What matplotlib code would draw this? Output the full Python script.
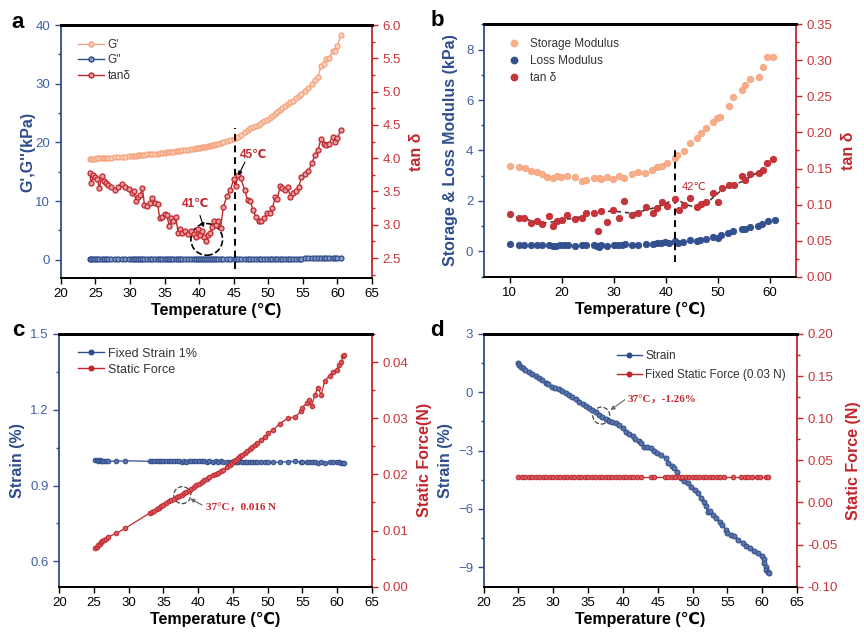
import matplotlib
matplotlib.use("Agg")
import matplotlib.pyplot as plt
from matplotlib.ticker import MultipleLocator, FormatStrFormatter
from matplotlib.lines import Line2D

plt.rcParams['font.family'] = ['Liberation Sans', 'DejaVu Sans']

BLUE = '#2f4d8c'
BLUE_TXT = '#42609f'
RED = '#c1272d'
RED_TXT = '#c8363c'
ORANGE = '#f5a27c'
ORANGE_B = '#f8ae88'
SERIF = ['Liberation Serif', 'DejaVu Serif', 'Noto Sans CJK SC']

# ---- panel a: G', G'', tan delta vs temperature
a_temp = [24.2, 24.4, 24.7, 25.0, 25.3, 25.6, 25.9, 26.2, 26.5, 26.8, 27.3, 27.8, 28.3, 28.8,
          29.3, 29.8, 30.3, 30.6, 30.9, 31.2, 31.5, 31.8, 32.1, 32.5, 32.9, 33.2, 33.6, 34.0,
          34.3, 34.6, 35.0, 35.3, 35.7, 36.0, 36.3, 36.6, 37.0, 37.3, 37.6, 38.0, 38.4, 38.8,
          39.2, 39.5, 39.8, 40.1, 40.4, 40.7, 41.0, 41.3, 41.6, 41.9, 42.2, 42.5, 42.8, 43.1,
          43.5, 44.0, 44.5, 45.0, 45.3, 45.6, 46.0, 46.6, 47.0, 47.4, 47.8, 48.2, 48.6, 49.0,
          49.4, 49.8, 50.2, 50.6, 51.0, 51.3, 51.7, 52.0, 52.4, 52.8, 53.2, 53.6, 54.0, 54.4,
          54.8, 55.3, 55.8, 56.3, 56.8, 57.2, 57.6, 58.0, 58.4, 58.8, 59.3, 59.6, 60.0, 60.5]
a_storage = [17.2, 17.2, 17.25, 17.25, 17.3, 17.3, 17.3, 17.35, 17.35, 17.4, 17.4, 17.45, 17.5, 17.55,
             17.6, 17.65, 17.7, 17.7, 17.75, 17.8, 17.8, 17.85, 17.9, 17.95, 18.0, 18.0, 18.05, 18.1,
             18.15, 18.2, 18.25, 18.3, 18.35, 18.4, 18.45, 18.5, 18.55, 18.6, 18.65, 18.7, 18.75, 18.85,
             18.9, 19.0, 19.05, 19.1, 19.2, 19.25, 19.3, 19.35, 19.45, 19.5, 19.6, 19.7, 19.8, 19.9,
             20.0, 20.2, 20.4, 20.6, 20.8, 21.0, 21.3, 21.8, 22.1, 22.4, 22.6, 22.8, 23.0, 23.3,
             23.6, 23.9, 24.2, 24.5, 24.8, 25.1, 25.5, 25.8, 26.2, 26.5, 26.8, 27.1, 27.5, 27.9,
             28.3, 28.7, 29.2, 29.9, 30.7, 31.1, 33.0, 33.4, 34.2, 34.3, 35.5, 35.6, 36.5, 38.3]
a_loss = [0.12, 0.12, 0.12, 0.12, 0.12, 0.12, 0.12, 0.12, 0.12, 0.12, 0.12, 0.12, 0.12, 0.12,
          0.12, 0.12, 0.12, 0.12, 0.12, 0.12, 0.12, 0.12, 0.12, 0.12, 0.12, 0.12, 0.12, 0.12,
          0.12, 0.12, 0.12, 0.12, 0.12, 0.12, 0.12, 0.12, 0.12, 0.12, 0.12, 0.12, 0.12, 0.12,
          0.13, 0.13, 0.13, 0.13, 0.13, 0.13, 0.13, 0.13, 0.13, 0.13, 0.13, 0.13, 0.13, 0.14,
          0.14, 0.14, 0.14, 0.15, 0.15, 0.15, 0.15, 0.15, 0.16, 0.16, 0.16, 0.16, 0.17, 0.17,
          0.17, 0.17, 0.18, 0.18, 0.18, 0.19, 0.19, 0.19, 0.2, 0.2, 0.2, 0.21, 0.21, 0.22,
          0.22, 0.23, 0.23, 0.24, 0.25, 0.26, 0.27, 0.28, 0.29, 0.3, 0.31, 0.32, 0.33, 0.35]
a_tan = [3.77, 3.62, 3.74, 3.71, 3.68, 3.55, 3.73, 3.66, 3.62, 3.60, 3.57, 3.52, 3.57, 3.61,
         3.57, 3.54, 3.47, 3.50, 3.35, 3.42, 3.45, 3.55, 3.30, 3.28, 3.32, 3.40, 3.33, 3.31,
         3.10, 3.12, 3.16, 3.15, 2.98, 3.10, 3.05, 3.12, 2.87, 2.93, 2.88, 2.90, 2.86, 2.90,
         2.86, 2.82, 2.93, 2.85, 2.90, 2.82, 2.76, 2.84, 2.88, 2.96, 3.06, 3.00, 3.05, 2.95,
         3.26, 3.43, 3.52, 3.68, 3.58, 3.75, 3.70, 3.52, 3.37, 3.36, 3.22, 3.12, 3.06, 3.06,
         3.10, 3.17, 3.18, 3.25, 3.42, 3.38, 3.58, 3.55, 3.52, 3.56, 3.42, 3.47, 3.50, 3.56,
         3.72, 3.76, 3.80, 3.93, 4.05, 4.12, 4.29, 4.21, 4.20, 4.22, 4.32, 4.24, 4.30, 4.43]

# ---- panel b: storage / loss modulus and tan delta
b_storage_temp = [10.0, 11.7, 12.9, 14.0, 15.2, 16.2, 17.2, 18.3, 19.1, 19.9, 21.0, 22.5, 23.9, 24.6,
                  26.2, 27.1, 27.6, 28.7, 29.9, 31.0, 32.0, 33.4, 34.6, 36.0, 37.4, 38.3, 39.2, 40.3,
                  41.8, 42.2, 43.4, 44.7, 46.0, 46.8, 47.8, 49.0, 49.9, 50.4, 52.2, 52.9, 54.6, 55.2,
                  56.2, 57.8, 58.6, 59.5, 60.6]
b_storage = [3.40, 3.36, 3.29, 3.20, 3.16, 3.07, 2.96, 2.90, 2.99, 2.94, 3.00, 2.94, 2.81, 2.83,
             2.92, 2.90, 2.86, 2.94, 2.87, 2.99, 2.92, 3.06, 3.14, 3.12, 3.23, 3.33, 3.40, 3.52,
             3.70, 3.82, 3.99, 4.31, 4.51, 4.68, 4.91, 5.14, 5.27, 5.34, 5.76, 6.13, 6.39, 6.59,
             6.82, 6.92, 7.29, 7.71, 7.71]
b_loss_temp = [10.0, 11.7, 12.8, 14.0, 15.2, 16.2, 17.5, 18.3, 18.9, 19.6, 20.4, 21.2, 22.6, 23.8,
               24.6, 26.2, 26.8, 27.1, 27.6, 28.7, 30.0, 30.8, 31.6, 32.1, 33.4, 34.6, 36.1, 37.5,
               38.3, 39.0, 39.8, 40.6, 41.7, 42.4, 43.3, 44.7, 45.9, 46.6, 47.8, 49.0, 50.0, 50.6,
               52.0, 52.9, 54.7, 55.2, 56.2, 57.7, 58.5, 59.6, 60.9]
b_loss = [0.30, 0.27, 0.27, 0.25, 0.25, 0.24, 0.25, 0.22, 0.23, 0.24, 0.24, 0.25, 0.23, 0.24,
          0.24, 0.25, 0.22, 0.17, 0.25, 0.21, 0.26, 0.25, 0.25, 0.30, 0.26, 0.27, 0.28, 0.29,
          0.33, 0.35, 0.36, 0.35, 0.40, 0.35, 0.38, 0.47, 0.43, 0.47, 0.50, 0.59, 0.53, 0.65,
          0.75, 0.79, 0.90, 0.88, 0.98, 1.01, 1.10, 1.22, 1.25]
b_tan_temp = [10.0, 11.7, 12.7, 14.0, 15.2, 16.2, 17.5, 18.3, 19.1, 20.0, 21.1, 22.5, 23.9, 24.6,
              26.1, 26.9, 27.6, 28.7, 29.9, 31.0, 32.0, 33.4, 34.6, 36.1, 37.6, 38.3, 39.3, 40.3,
              41.8, 42.5, 43.4, 44.7, 46.0, 46.8, 47.8, 49.0, 50.1, 50.8, 52.2, 53.0, 54.6, 55.2,
              56.2, 57.8, 58.6, 59.5, 60.6]
b_tan = [0.0865, 0.081, 0.081, 0.074, 0.077, 0.073, 0.084, 0.070, 0.077, 0.079, 0.0855, 0.0795, 0.082, 0.088,
         0.088, 0.064, 0.091, 0.076, 0.093, 0.082, 0.105, 0.0855, 0.089, 0.096, 0.088, 0.095, 0.104, 0.098,
         0.108, 0.0925, 0.100, 0.109, 0.096, 0.101, 0.103, 0.116, 0.104, 0.1225, 0.127, 0.127, 0.140, 0.134,
         0.142, 0.144, 0.148, 0.157, 0.163]
b_trend_temp = [11.5, 13.0, 16.0, 18.3, 20.0, 22.5, 24.5, 27.5, 30.0, 33.5, 36.0, 39.0, 41.8, 44.0,
                46.0, 48.0, 50.2, 51.0, 53.0, 55.0, 57.0, 59.0, 61.0]
b_trend = [0.081, 0.080, 0.074, 0.076, 0.079, 0.081, 0.085, 0.090, 0.091, 0.088, 0.092, 0.098, 0.108, 0.100,
           0.095, 0.103, 0.117, 0.122, 0.127, 0.133, 0.142, 0.150, 0.163]

# ---- panel c: fixed strain, static force
c_temp = [25.2, 25.4, 25.6, 25.8, 26.0, 26.2, 26.4, 26.7, 27.0, 28.2, 29.5, 33.0, 33.3, 33.6,
          34.0, 34.3, 34.7, 35.0, 35.4, 35.8, 36.1, 36.5, 36.9, 37.2, 37.6, 37.9, 38.3, 38.6,
          39.0, 39.4, 39.7, 40.1, 40.5, 40.9, 41.2, 41.6, 42.1, 42.5, 42.9, 43.3, 43.6, 44.1,
          44.5, 44.8, 45.1, 45.4, 45.7, 46.0, 46.3, 46.7, 47.0, 47.4, 47.7, 48.1, 48.5, 49.1,
          49.6, 50.0, 50.8, 51.7, 52.9, 53.9, 54.8, 54.9, 55.6, 56.0, 56.3, 56.8, 57.2, 57.7,
          58.2, 58.9, 59.4, 59.9, 60.3, 60.6, 60.8, 61.0]
c_strain = [1.002, 1.000, 0.999, 1.000, 0.998, 0.997, 0.998, 0.997, 0.996, 0.997, 0.998, 0.996, 0.997, 0.998,
            0.997, 0.996, 0.997, 0.996, 0.997, 0.996, 0.997, 0.996, 0.997, 0.996, 0.995, 0.996, 0.995, 0.997,
            0.996, 0.998, 0.997, 0.996, 0.997, 0.996, 0.995, 0.996, 0.995, 0.996, 0.995, 0.996, 0.995, 0.995,
            0.994, 0.995, 0.996, 0.995, 0.994, 0.996, 0.995, 0.994, 0.995, 0.994, 0.995, 0.994, 0.993, 0.994,
            0.993, 0.994, 0.993, 0.992, 0.995, 0.996, 0.993, 0.992, 0.993, 0.992, 0.993, 0.992, 0.991, 0.992,
            0.991, 0.992, 0.993, 0.994, 0.992, 0.991, 0.990, 0.991]
c_force = [0.0068, 0.0071, 0.0074, 0.0076, 0.0079, 0.0081, 0.0083, 0.0085, 0.0088, 0.0095, 0.0104, 0.0131, 0.0133, 0.0135,
           0.0138, 0.0140, 0.0144, 0.0146, 0.0149, 0.0152, 0.0155, 0.0157, 0.0159, 0.0161, 0.0163, 0.0166, 0.0169, 0.0171,
           0.0174, 0.0177, 0.0181, 0.0183, 0.0187, 0.0190, 0.0192, 0.0195, 0.0198, 0.0200, 0.0203, 0.0206, 0.0208, 0.0213,
           0.0217, 0.0220, 0.0223, 0.0226, 0.0229, 0.0232, 0.0234, 0.0238, 0.0241, 0.0245, 0.0249, 0.0253, 0.0256, 0.0262,
           0.0267, 0.0273, 0.0279, 0.0290, 0.0300, 0.0302, 0.0312, 0.0318, 0.0327, 0.0333, 0.0322, 0.0342, 0.0354, 0.0342,
           0.0366, 0.0376, 0.0383, 0.0386, 0.0395, 0.0400, 0.0410, 0.0413]

# ---- panel d: strain under fixed static force
d_temp = [24.9, 25.1, 25.3, 25.6, 26.0, 26.5, 27.0, 27.5, 27.9, 28.4, 28.9, 29.3, 29.8, 30.3,
          30.8, 31.3, 31.8, 32.2, 32.7, 33.2, 33.7, 34.2, 34.7, 35.1, 35.6, 36.1, 36.6, 37.0,
          37.5, 38.0, 38.5, 39.0, 39.5, 40.0, 40.4, 40.9, 41.4, 41.8, 42.3, 42.6, 43.0, 43.5,
          44.0, 44.5, 44.9, 45.5, 46.2, 46.5, 47.0, 47.4, 47.8, 48.3, 48.8, 49.3, 49.8, 50.3,
          50.8, 51.2, 51.6, 51.9, 52.2, 52.5, 53.0, 53.4, 53.9, 54.3, 54.8, 55.0, 55.5, 56.0,
          56.6, 57.2, 57.7, 58.2, 58.8, 59.4, 60.0, 60.2, 60.3, 60.5, 60.6, 60.8, 61.0]
d_strain = [1.50, 1.40, 1.32, 1.25, 1.15, 1.05, 0.95, 0.83, 0.72, 0.62, 0.50, 0.40, 0.29, 0.22,
            0.16, 0.05, -0.05, -0.15, -0.25, -0.36, -0.48, -0.58, -0.70, -0.80, -0.90, -1.03, -1.16, -1.26,
            -1.38, -1.48, -1.55, -1.60, -1.67, -1.85, -2.02, -2.15, -2.27, -2.40, -2.53, -2.62, -2.79, -2.82,
            -2.87, -3.00, -3.10, -3.25, -3.39, -3.64, -3.78, -3.90, -4.10, -4.41, -4.55, -4.67, -4.85, -5.01,
            -5.20, -5.44, -5.65, -5.87, -6.15, -6.13, -6.30, -6.47, -6.65, -6.81, -7.07, -7.25, -7.35, -7.41,
            -7.58, -7.75, -7.90, -8.01, -8.15, -8.27, -8.40, -8.60, -8.78, -9.00, -9.12, -9.22, -9.29]
d_force_temp = [25.0, 25.5, 26.0, 26.5, 27.0, 27.5, 28.0, 28.5, 29.0, 29.5, 30.0, 30.5, 31.0, 31.5,
                32.0, 32.5, 33.0, 33.5, 34.0, 34.5, 35.0, 35.5, 36.0, 36.5, 37.0, 37.5, 38.0, 38.5,
                39.0, 39.5, 40.0, 40.5, 41.0, 41.5, 42.0, 42.6, 44.0, 44.5, 46.0, 46.5, 47.0, 47.5,
                48.0, 48.5, 49.0, 49.5, 50.0, 50.5, 51.0, 51.5, 52.0, 52.5, 53.0, 53.5, 54.0, 54.5,
                55.8, 57.0, 57.5, 58.0, 58.5, 59.2, 59.7, 60.5, 60.9]
d_force = [0.03] * len(d_force_temp)  # fixed static force setpoint


def style_axes(ax, ax2):
    for s in ('left', 'right', 'top', 'bottom'):
        ax.spines[s].set_linewidth(1.3)
        ax2.spines[s].set_linewidth(1.3)
    ax.spines['left'].set_color(BLUE)
    ax.spines['right'].set_visible(False)
    ax2.spines['left'].set_visible(False)
    ax2.spines['right'].set_color(RED)
    ax.spines['top'].set_linewidth(2.0)
    ax2.spines['top'].set_linewidth(2.0)
    ax.tick_params(axis='y', which='both', direction='out', colors=BLUE, labelcolor=BLUE_TXT,
                   labelsize=9.5)
    ax.tick_params(axis='y', which='major', length=4, width=1)
    ax.tick_params(axis='y', which='minor', length=2.5, width=1)
    ax.tick_params(axis='x', direction='out', length=4, width=1, labelsize=9.5, colors='black')
    ax2.tick_params(axis='y', which='both', direction='out', colors=RED, labelcolor=RED_TXT,
                    labelsize=9.5)
    ax2.tick_params(axis='y', which='major', length=4, width=1)
    ax2.tick_params(axis='y', which='minor', length=2.5, width=1)
    ax.set_xlabel('Temperature (℃)', fontsize=11.5, fontweight='bold', labelpad=2)


fig = plt.figure(figsize=(8.64, 6.35), dpi=100)

# ================= a =================
ax = fig.add_axes([0.0703, 0.5622, 0.3603, 0.3984])
ax2 = ax.twinx()
style_axes(ax, ax2)
ax.plot(a_temp, a_storage, '-o', color=ORANGE, lw=1, ms=3.6, mfc='#fbd2bd', mec=ORANGE, mew=0.9)
ax.plot(a_temp, a_loss, '-o', color=BLUE, lw=1, ms=3.6, mfc='#8a9cc4', mec=BLUE, mew=0.9)
ax2.plot(a_temp, a_tan, '-o', color=RED, lw=1, ms=3.6, mfc='#e59a9c', mec=RED, mew=0.9)
ax.plot([45.2, 45.2], [-1.5, 22.5], '--', color='black', lw=1.4, dashes=(3.5, 2.5))
ax.set_xlim(20, 65)
ax.set_ylim(-3.1, 40)
ax2.set_ylim(2.2, 6.0)
ax.xaxis.set_major_locator(MultipleLocator(5))
ax.yaxis.set_major_locator(MultipleLocator(10))
ax.yaxis.set_minor_locator(MultipleLocator(5))
ax2.yaxis.set_major_locator(MultipleLocator(0.5))
ax2.yaxis.set_minor_locator(MultipleLocator(0.25))
ax2.yaxis.set_major_formatter(FormatStrFormatter('%.1f'))
ax.set_ylabel("G',G''(kPa)", fontsize=11.5, fontweight='bold', color=BLUE, labelpad=0)
ax2.set_ylabel('tan δ', fontsize=11.5, fontweight='bold', color=RED, labelpad=6)
ax2.text(39.5, 3.31, '41℃', color=RED, fontsize=8.5, fontweight='bold', ha='center', va='center')
ax2.annotate('', xy=(40.8, 2.92), xytext=(40.0, 3.18),
             arrowprops=dict(arrowstyle='-|>', color='black', lw=0.8, mutation_scale=6))
ax2.scatter([41.1], [2.78], s=520, facecolors='none', edgecolors='black', linestyles='--', linewidths=1.2)
ax2.text(47.9, 4.05, '45℃', color=RED, fontsize=8.5, fontweight='bold', ha='center', va='center')
ax2.annotate('', xy=(45.5, 3.70), xytext=(46.8, 3.98),
             arrowprops=dict(arrowstyle='-|>', color='black', lw=0.8, mutation_scale=6))
h = [Line2D([], [], color=ORANGE, marker='o', ms=3.6, mfc='#fbd2bd', lw=1),
     Line2D([], [], color=BLUE, marker='o', ms=3.6, mfc='#8a9cc4', lw=1),
     Line2D([], [], color=RED, marker='o', ms=3.6, mfc='#e59a9c', lw=1)]
ax.legend(h, ["G'", "G''", 'tanδ'], loc='upper left', bbox_to_anchor=(0.055, 0.945), frameon=False,
          fontsize=8.5, handlelength=2.2, handletextpad=0.3, labelspacing=0.3, borderpad=0,
          borderaxespad=0, labelcolor='#333333')

# ================= b =================
ax = fig.add_axes([0.5598, 0.5643, 0.3615, 0.3974])
ax2 = ax.twinx()
style_axes(ax, ax2)
ax.plot(b_storage_temp, b_storage, 'o', color=ORANGE_B, ms=4.6, mec='#f5a27c', mew=0.6)
ax.plot(b_loss_temp, b_loss, 'o', color='#34518f', ms=4.6, mec=BLUE, mew=0.6)
ax2.plot(b_trend_temp, b_trend, '--', color='#333333', lw=1.1, dashes=(3, 2.5))
ax2.plot(b_tan_temp, b_tan, 'o', color='#c6353a', ms=4.6, mec=RED, mew=0.6)
ax.plot([41.7, 41.7], [-0.4, 4.15], '--', color='black', lw=1.4, dashes=(3.5, 2.5))
ax.text(43.0, 2.57, '42℃', color=RED, fontsize=8, ha='left', va='center')
ax.set_xlim(5, 65)
ax.set_ylim(-1, 9)
ax2.set_ylim(0, 0.35)
ax.xaxis.set_major_locator(MultipleLocator(10))
ax.yaxis.set_major_locator(MultipleLocator(2))
ax.yaxis.set_minor_locator(MultipleLocator(1))
ax2.yaxis.set_major_locator(MultipleLocator(0.05))
ax2.yaxis.set_minor_locator(MultipleLocator(0.025))
ax2.yaxis.set_major_formatter(FormatStrFormatter('%.2f'))
ax.set_ylabel('Storage & Loss Modulus (kPa)', fontsize=11.5, fontweight='bold', color=BLUE, labelpad=6)
ax2.set_ylabel('tan δ', fontsize=11.5, fontweight='bold', color=RED, labelpad=6)
h = [Line2D([], [], ls='none', marker='o', color=ORANGE_B, ms=4.6),
     Line2D([], [], ls='none', marker='o', color='#34518f', ms=4.6),
     Line2D([], [], ls='none', marker='o', color='#c6353a', ms=4.6)]
ax.legend(h, ['Storage Modulus', 'Loss Modulus', 'tan δ'], loc='upper left', bbox_to_anchor=(0.075, 0.945),
          frameon=False, fontsize=8.5, handlelength=1.2, handletextpad=0.7, labelspacing=0.4, borderpad=0,
          borderaxespad=0, labelcolor='#333333')

# ================= c =================
ax = fig.add_axes([0.0686, 0.0761, 0.3619, 0.398])
ax2 = ax.twinx()
style_axes(ax, ax2)
ax.plot(c_temp, c_strain, '-o', color=BLUE, lw=0.9, ms=3.3, mfc='#5d74a8', mec=BLUE, mew=0.7)
ax2.plot(c_temp, c_force, '-o', color=RED, lw=0.9, ms=3.3, mfc='#d45a5e', mec=RED, mew=0.7)
ax2.scatter([37.7], [0.0163], s=150, facecolors='none', edgecolors='#444444', linestyles='--', linewidths=0.9)
ax2.annotate('', xy=(38.5, 0.0159), xytext=(40.9, 0.0143),
             arrowprops=dict(arrowstyle='-|>', color='#666666', lw=0.8, mutation_scale=6))
ax2.text(41.1, 0.0140, '37°C，0.016 N', color=RED, fontsize=8, fontweight='bold', family=SERIF,
         ha='left', va='center')
ax.set_xlim(20, 65)
ax.set_ylim(0.5, 1.5)
ax2.set_ylim(0, 0.045)
ax.xaxis.set_major_locator(MultipleLocator(5))
ax.yaxis.set_major_locator(MultipleLocator(0.3))
ax.yaxis.set_minor_locator(MultipleLocator(0.15))
ax.yaxis.set_major_formatter(FormatStrFormatter('%.1f'))
ax2.yaxis.set_major_locator(MultipleLocator(0.01))
ax2.yaxis.set_minor_locator(MultipleLocator(0.005))
ax2.yaxis.set_major_formatter(FormatStrFormatter('%.2f'))
ax.set_ylabel('Strain (%)', fontsize=11.5, fontweight='bold', color=BLUE, labelpad=4)
ax2.set_ylabel('Static Force(N)', fontsize=11.5, fontweight='bold', color=RED, labelpad=6)
h = [Line2D([], [], color=BLUE, marker='o', ms=3.3, lw=1),
     Line2D([], [], color=RED, marker='o', ms=3.3, lw=1)]
ax.legend(h, ['Fixed Strain 1%', 'Static Force'], loc='upper left', bbox_to_anchor=(0.06, 0.945),
          frameon=False, fontsize=9, handlelength=2.1, handletextpad=0.3, labelspacing=0.3, borderpad=0,
          borderaxespad=0, labelcolor='#333333')

# ================= d =================
ax = fig.add_axes([0.5598, 0.0761, 0.3626, 0.398])
ax2 = ax.twinx()
style_axes(ax, ax2)
ax.plot(d_temp, d_strain, '-o', color=BLUE, lw=0.9, ms=3.6, mfc='#5d74a8', mec=BLUE, mew=0.7)
ax2.plot(d_force_temp, d_force, '-o', color=RED, lw=0.9, ms=3.3, mfc='#d45a5e', mec=RED, mew=0.7)
ax.scatter([36.9], [-1.2], s=150, facecolors='none', edgecolors='#444444', linestyles='--', linewidths=0.9)
ax.annotate('', xy=(37.9, -1.0), xytext=(40.6, -0.3),
            arrowprops=dict(arrowstyle='-|>', color='#666666', lw=0.8, mutation_scale=6))
ax.text(40.7, -0.42, '37°C，-1.26%', color=RED, fontsize=8, fontweight='bold', family=SERIF,
        ha='left', va='center')
ax.set_xlim(20, 65)
ax.set_ylim(-10, 3)
ax2.set_ylim(-0.10, 0.20)
ax.xaxis.set_major_locator(MultipleLocator(5))
ax.yaxis.set_major_locator(MultipleLocator(3))
ax.yaxis.set_minor_locator(MultipleLocator(1.5))
ax2.yaxis.set_major_locator(MultipleLocator(0.05))
ax2.yaxis.set_minor_locator(MultipleLocator(0.025))
ax2.yaxis.set_major_formatter(FormatStrFormatter('%.2f'))
ax.set_ylabel('Strain (%)', fontsize=11.5, fontweight='bold', color=BLUE, labelpad=4)
ax2.set_ylabel('Static Force (N)', fontsize=11.5, fontweight='bold', color=RED, labelpad=6)
h = [Line2D([], [], color=BLUE, marker='o', ms=3.3, lw=1),
     Line2D([], [], color=RED, marker='o', ms=3.3, lw=1)]
ax.legend(h, ['Strain', 'Fixed Static Force (0.03 N)'], loc='upper left', bbox_to_anchor=(0.425, 0.935),
          frameon=False, fontsize=8.5, handlelength=2.1, handletextpad=0.3, labelspacing=0.6, borderpad=0,
          borderaxespad=0, labelcolor='#333333')

# panel letters
for lbl, x, y in [('a', 18, 22), ('b', 437, 21), ('c', 18, 330), ('d', 437, 330)]:
    fig.text(x / 864, 1 - y / 635, lbl, fontsize=16, fontweight='bold', ha='center', va='center')

fig.savefig('out.png', dpi=100)
